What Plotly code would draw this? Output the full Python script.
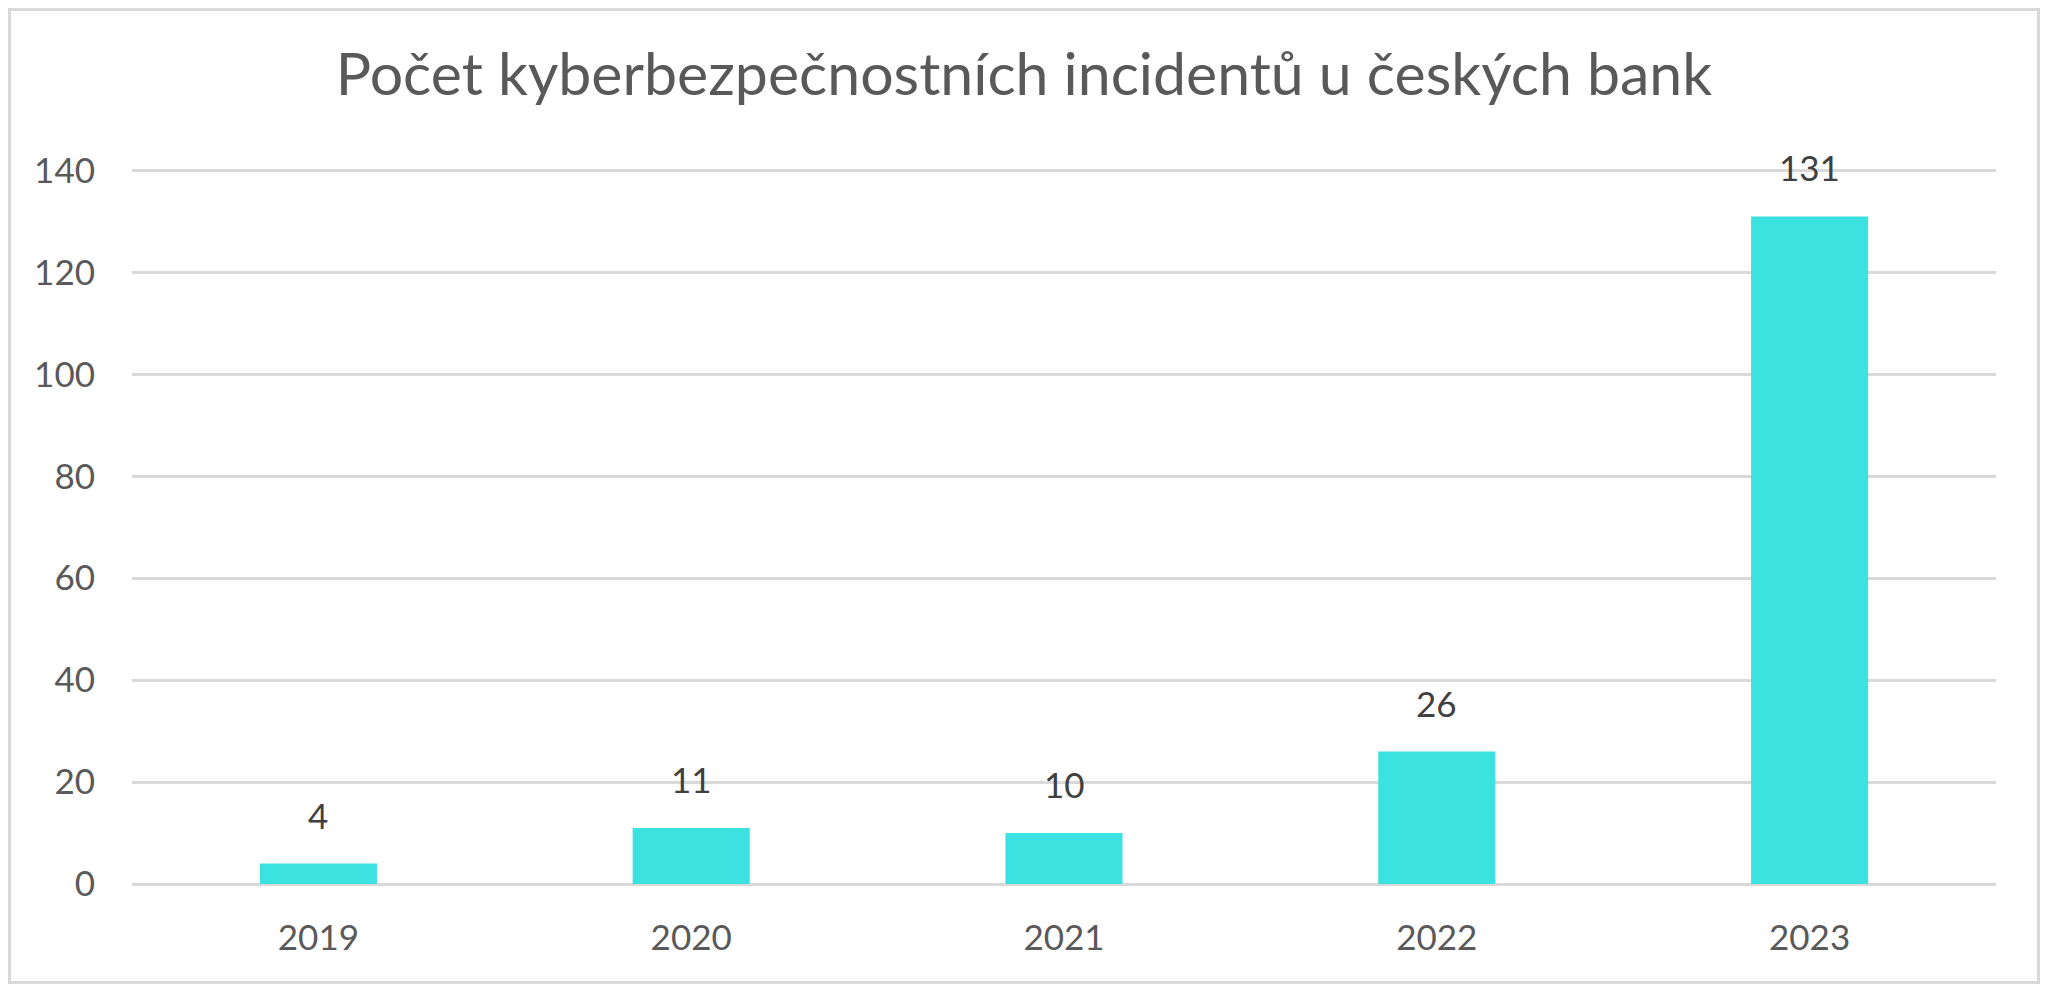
import plotly.graph_objects as go

# data
years = ["2019", "2020", "2021", "2022", "2023"]
incidents = [4, 11, 10, 26, 131]
y_ticks = [0, 20, 40, 60, 80, 100, 120, 140]

chart_title = "Počet kyberbezpečnostních incidentů u českých bank"

FONT = "Lato"
GRID = "#D9D9D9"
BAR = "#3BE2E0"

# page body has an 8px margin, so the figure is 16px smaller than the window
W, H = 2032, 976
L, R, T, B = 124, 44, 160, 100

fig = go.Figure()
fig.add_trace(go.Bar(x=years, y=incidents, marker=dict(color=BAR, line=dict(width=0)),
                     hoverinfo="x+y"))

# value labels above bars (Excel puts them a bit higher than plotly's outside text)
# numeric-looking strings would be read as category indices, so pass the index
for i, v in enumerate(incidents):
    fig.add_annotation(x=i, y=v, text=str(v), showarrow=False, yanchor="bottom",
                       yshift=26, font=dict(family=FONT, size=35, color="#404040"))

# light grey frame round the whole figure
pw, ph = W - L - R, H - T - B
fig.add_shape(type="rect", xref="paper", yref="paper",
              x0=(1.5 - L) / pw, x1=(W - 1.5 - L) / pw,
              y0=-(B - 1.5) / ph, y1=1 + (T - 1.5) / ph,
              line=dict(color=GRID, width=3), fillcolor="rgba(0,0,0,0)", layer="below")

fig.update_layout(
    width=W, height=H,
    margin=dict(l=L, r=R, t=T, b=B),
    paper_bgcolor="white", plot_bgcolor="white",
    showlegend=False,
    bargap=0.686,
    title=dict(text=chart_title, x=0.5, xanchor="center", xref="container",
               y=1 - 66 / H, yanchor="middle",
               font=dict(family=FONT, size=59, color="#595959")),
    font=dict(family=FONT, color="#595959"),
)
fig.update_xaxes(type="category", range=[-0.5, 4.5], showgrid=False, showline=False,
                 zeroline=False, ticks="",
                 tickfont=dict(family=FONT, size=35, color="#595959"),
                 ticklabelstandoff=30)
fig.update_yaxes(range=[0, 140.5], tickvals=y_ticks, showgrid=True, gridcolor=GRID,
                 gridwidth=3, zeroline=True, zerolinecolor=GRID, zerolinewidth=3,
                 showline=False, ticks="",
                 tickfont=dict(family=FONT, size=35, color="#595959"),
                 ticklabelstandoff=36)

fig.write_html("out.html")
